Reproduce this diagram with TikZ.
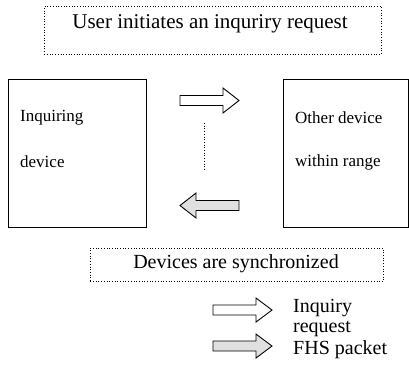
\documentclass[tikz,border=0pt]{standalone}
\usepackage{fontspec}
\newfontfamily\tms{Liberation Serif}
\begin{document}
\begin{tikzpicture}[x=1pt,y=-1pt,
  dotbox/.style={draw, dotted, line width=0.7pt},
  devbox/.style={draw, line width=1pt},
  txt/.style={inner sep=0pt, anchor=west},
  fatarrow/.style={draw, line width=0.9pt, line join=miter}]
\useasboundingbox (0,0) rectangle (409,370);
\node[dotbox, minimum width=337pt, minimum height=48pt, anchor=north west] (top) at (44,6) {};
\node[font=\tms\fontsize{21}{24}\selectfont, inner sep=0pt] (toptxt) at (210,24) {User initiates an inquriry request};
\node[devbox, minimum width=138pt, minimum height=148pt, anchor=north west] (left) at (8,79) {};
\node[devbox, minimum width=125pt, minimum height=148pt, anchor=north west] (right) at (283,79) {};
\node[txt, font=\tms\fontsize{17}{20}\selectfont] (l1) at (20,118) {Inquiring};
\node[txt, font=\tms\fontsize{17}{20}\selectfont] (l2) at (20,162) {device};
\node[txt, font=\tms\fontsize{17}{20}\selectfont] (r1) at (295,118) {Other device};
\node[txt, font=\tms\fontsize{17}{20}\selectfont] (r2) at (295,162) {within range};
\draw[fatarrow] (180,95.5) -- (223,95.5) -- (223,88) -- (239,100.5) -- (223,113) -- (223,105.5) -- (180,105.5) -- cycle;
\draw[fatarrow, fill=black!12] (239,200.5) -- (196,200.5) -- (196,193) -- (180,205.5) -- (196,218) -- (196,210.5) -- (239,210.5) -- cycle;
\coordinate (d1) at (204,123);
\coordinate (d2) at (204,170);
\draw[dotted, line width=0.7pt] (d1) -- (d2);
\node[dotbox, minimum width=293pt, minimum height=33pt, anchor=north west] (bot) at (90,248) {};
\node[font=\tms\fontsize{20}{24}\selectfont, inner sep=0pt] (bottxt) at (236,264) {Devices are synchronized};
\draw[fatarrow] (213,305) -- (256,305) -- (256,298) -- (272,310) -- (256,322) -- (256,315) -- (213,315) -- cycle;
\draw[fatarrow, fill=black!12] (213,341) -- (256,341) -- (256,334) -- (272,346) -- (256,358) -- (256,351) -- (213,351) -- cycle;
\node[txt, font=\tms\fontsize{20}{22}\selectfont] (g1) at (293,308) {Inquiry};
\node[txt, font=\tms\fontsize{20}{22}\selectfont] (g2) at (293,329) {request};
\node[txt, font=\tms\fontsize{20}{22}\selectfont] (g3) at (293,350) {FHS packet};
\end{tikzpicture}
\end{document}
